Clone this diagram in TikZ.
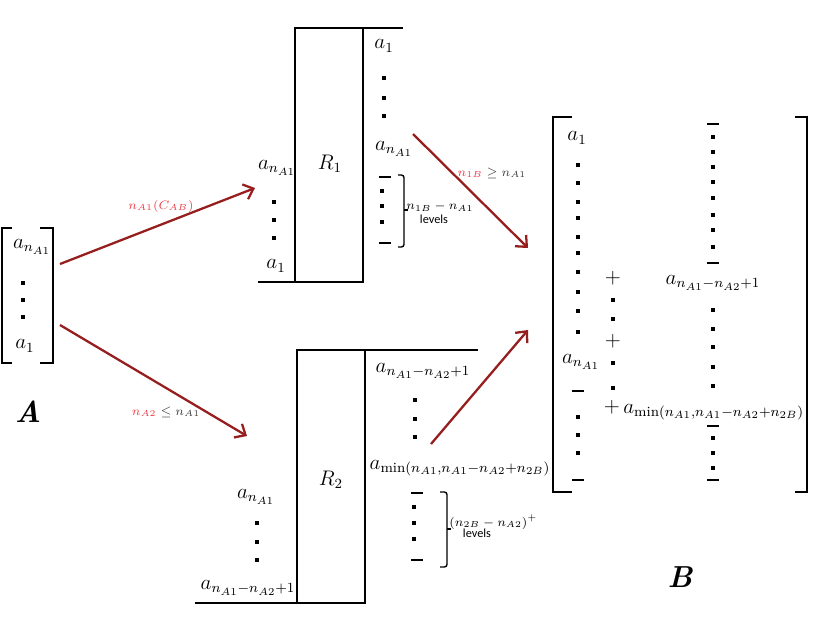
\documentclass[tikz,border=0pt]{standalone}
\usepackage{amsmath,amssymb}
\usepackage{fontspec}
\newfontfamily\lvlfont{Carlito}
\usetikzlibrary{arrows.meta}
\definecolor{arrowred}{RGB}{150,30,30}
\definecolor{lblred}{RGB}{235,60,70}
\definecolor{lblgray}{RGB}{60,60,60}
% small square dot and short level dash
\newcommand{\sqdot}[2]{\fill (#1,#2) +(-1pt,-1pt) rectangle +(1pt,1pt);}
\newcommand{\levdash}[2]{\draw[line width=0.8pt] (#1,#2) +(-6,0) -- +(6,0);}

\begin{document}
\begin{tikzpicture}[x=0.02cm,y=-0.02cm,
    ent/.style={inner sep=0pt,font=\large},
    small/.style={inner sep=0pt,font=\scriptsize},
    big/.style={inner sep=0pt,font=\LARGE\bfseries\itshape},
    flow/.style={draw=arrowred,line width=1.3pt,-{Straight Barb[length=5pt,width=9pt]}},
    rule/.style={line width=0.8pt}]
\useasboundingbox (0,0) rectangle (817,632);

% matrix A
\draw[rule] (12,228) -- (2,228) -- (2,363) -- (12,363);
\draw[rule] (40,228) -- (53,228) -- (53,363) -- (40,363);
\node[ent] (An) at (32,247) {$a_{n_{A1}}$};
\foreach \y in {283,300,317} {\sqdot{23}{\y}}
\node[ent] (Aone) at (25,346) {$a_1$};
\node[big] (Alab) at (28,412) {A};

% relay R1
\draw[rule] (295,28) rectangle (363,282);
\draw[rule] (363,28) -- (403,28);
\draw[rule] (258,282) -- (295,282);
\node[ent] (Rone) at (330,164) {$R_1$};
\node[ent] (ROin) at (277,168) {$a_{n_{A1}}$};
\foreach \y in {202,220,238} {\sqdot{274}{\y}}
\node[ent] (ROinone) at (276,266) {$a_1$};
\node[ent] (ROone) at (384,46) {$a_1$};
\foreach \y in {78,98,116} {\sqdot{384}{\y}}
\node[ent] (ROn) at (394,149) {$a_{n_{A1}}$};
\levdash{385}{177}
\foreach \y in {191,206,222} {\sqdot{382}{\y}}
\levdash{385}{243}
\draw[rule,rounded corners=1.5pt] (398,175) -- (404,175) -- (404,247) -- (398,247);
\draw[rule] (404,210) -- (408,210);
\node[small,anchor=west] (ROlev) at (406,207) {$n_{1B}-n_{A1}$};
\node[small] (ROlevb) at (434,219) {\lvlfont levels};

% relay R2
\draw[rule] (297,350) rectangle (365,603);
\draw[rule] (365,350) -- (478,350);
\draw[rule] (195,603) -- (297,603);
\node[ent] (Rtwo) at (331,480) {$R_2$};
\node[ent] (RTin) at (256,497) {$a_{n_{A1}}$};
\foreach \y in {523,542,560} {\sqdot{257}{\y}}
\node[ent] (RTinlow) at (248,588) {$a_{n_{A1}-n_{A2}+1}$};
\node[ent] (RTtop) at (423,371) {$a_{n_{A1}-n_{A2}+1}$};
\foreach \y in {400,419,437} {\sqdot{415}{\y}}
\node[ent] (RTmin) at (460,468) {$a_{\min(n_{A1},n_{A1}-n_{A2}+n_{2B})}$};
\levdash{417}{493}
\foreach \y in {507,523,539} {\sqdot{414}{\y}}
\levdash{417}{560}
\draw[rule,rounded corners=1.5pt] (440,492) -- (447,492) -- (447,567) -- (440,567);
\draw[rule] (447,529) -- (451,529);
\node[small,anchor=west] (RTlev) at (449,522) {$(n_{2B}-n_{A2})^+$};
\node[small] (RTlevb) at (477,533) {\lvlfont levels};

% matrix B
\draw[rule] (572,117) -- (553,117) -- (553,492) -- (572,492);
\draw[rule] (795,117) -- (807,117) -- (807,492) -- (795,492);
\node[ent] (Bone) at (577,138) {$a_1$};
\foreach \y in {165,183,202,218,237,253,272,292,311,332} {\sqdot{578}{\y}}
\node[ent] (Bn) at (581,362) {$a_{n_{A1}}$};
\levdash{578}{391}
\foreach \y in {417,435,453} {\sqdot{578}{\y}}
\levdash{578}{480}
% plus column
\node[ent] (Bpa) at (613,278) {$+$};
\foreach \y in {300,319} {\sqdot{613}{\y}}
\node[ent] (Bpb) at (613,341) {$+$};
\foreach \y in {363,388} {\sqdot{613}{\y}}
\node[ent] (Bpc) at (612,407) {$+$};
% right column
\levdash{713}{124}
\foreach \y in {137,152,167,182,198,215,230,247} {\sqdot{713}{\y}}
\levdash{713}{263}
\node[ent] (Btop) at (713,283) {$a_{n_{A1}-n_{A2}+1}$};
\foreach \y in {310,329,347,367,386} {\sqdot{713}{\y}}
\node[ent,anchor=west] (Bmin) at (623,412) {$a_{\min(n_{A1},n_{A1}-n_{A2}+n_{2B})}$};
\levdash{713}{426}
\foreach \y in {438,453,468} {\sqdot{713}{\y}}
\levdash{713}{480}
\node[big] (Blab) at (680,577) {B};

% arrows
\coordinate (fromA1) at (60,264);
\coordinate (toR1) at (255,188);
\coordinate (fromA2) at (60,325);
\coordinate (toR2) at (247,436);
\coordinate (fromR1) at (413,134);
\coordinate (toB1) at (528,248);
\coordinate (fromR2) at (431,444);
\coordinate (toB2) at (528,330);
\draw[flow] (fromA1) -- (toR1);
\draw[flow] (fromA2) -- (toR2);
\draw[flow] (fromR1) -- (toB1);
\draw[flow] (fromR2) -- (toB2);
\node[small,text=lblred] (capA) at (161,206) {$n_{A1}(C_{AB})$};
\node[small,text=lblgray] (capB) at (166,412) {${\color{lblred}n_{A2}}\leq n_{A1}$};
\node[small,text=lblgray] (capC) at (492,173) {${\color{lblred}n_{1B}}\geq n_{A1}$};
\end{tikzpicture}
\end{document}
